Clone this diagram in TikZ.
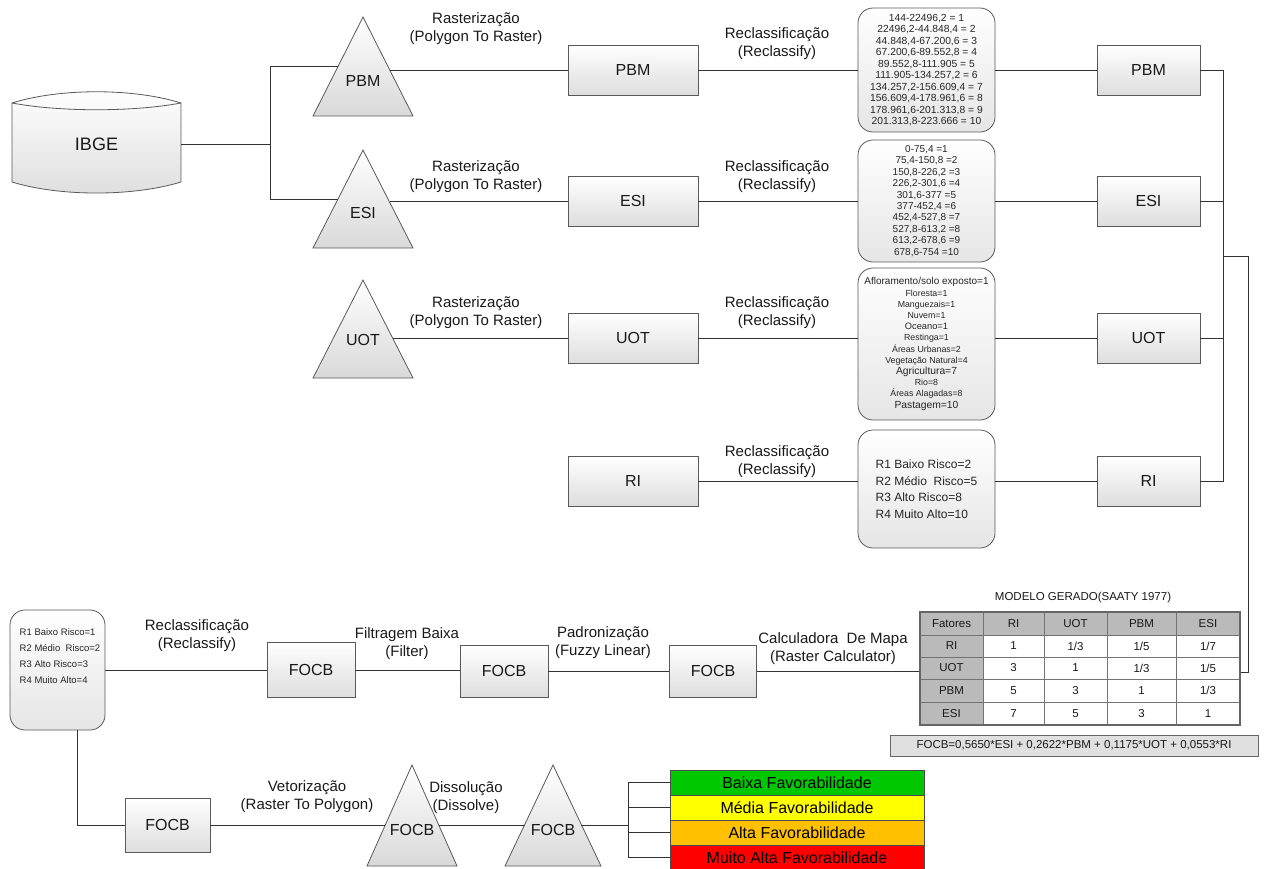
\documentclass[tikz,border=0pt]{standalone}
\usepackage{fontspec}
\setmainfont{Liberation Sans}
\newcommand\fsz[2]{\fontsize{#1}{#2}\selectfont}
\newcommand\mytri[4]{\draw[trishape] (#1,#2) -- (#1+#4,#3) -- (#1-#4,#3) -- cycle;}
\begin{document}
\begin{tikzpicture}[x=1pt,y=-1pt,
  conn/.style={draw=black!80,line width=0.8pt},
  boxst/.style={draw=black!65,line width=0.8pt,top color=white,bottom color=black!13,minimum width=130,minimum height=50,inner sep=0,font=\fsz{16}{18},text=black!90},
  rbox/.style={draw=black!65,line width=0.8pt,top color=white,bottom color=black!10,rounded corners=15,minimum width=137,inner sep=0,align=center,text=black!85},
  trishape/.style={draw=black!65,line width=0.8pt,top color=white,bottom color=black!15},
  trilbl/.style={inner sep=0,font=\fsz{16}{18},text=black!90},
  lbl/.style={align=center,inner sep=0,font=\fsz{15}{18},text=black!90},
  cell/.style={inner sep=0,font=\fsz{11.5}{13},text=black!90},
  legbox/.style={draw=black!70,line width=0.8pt,minimum width=254,minimum height=25,inner sep=0,font=\fsz{16}{17},text=black}]
\useasboundingbox (0,0) rectangle (1266,868);

% ---------- IBGE ----------
\shade[top color=white,bottom color=black!13,draw=black!65,line width=0.8pt]
  (12,103) .. controls (60,88) and (133,88) .. (181,103) -- (181,182)
  .. controls (133,196.7) and (60,196.7) .. (12,182) -- cycle;
\draw[black!65,line width=0.8pt] (12,103) .. controls (60,112) and (133,112) .. (181,103);
\node[inner sep=0,minimum width=169,minimum height=80,font=\fsz{18}{20},text=black!90] (ibge) at (96.5,144) {IBGE};

% ---------- triangles ----------
\mytri{363}{17}{116}{50}
\node[trilbl] (tpbm) at (363,81) {PBM};
\coordinate (pbmL) at (338,66);
\coordinate (pbmR) at (390,70);
\mytri{363}{150}{248}{50}
\node[trilbl] (tesi) at (363,213) {ESI};
\coordinate (esiL) at (338,199);
\coordinate (esiR) at (390,201);
\mytri{363}{280}{378}{50}
\node[trilbl] (tuot) at (363,340) {UOT};
\coordinate (uotR) at (393,338);

\coordinate (jA) at (270,66);
\coordinate (jB) at (270,199);
\draw[conn] (ibge.east) -- (ibge.east -| jA);
\draw[conn] (pbmL) -- (jA) -- (jB) -- (esiL);

% ---------- row boxes ----------
\node[boxst] (bpbm) at (633,70) {PBM};
\node[boxst] (besi) at (633,201) {ESI};
\node[boxst] (buot) at (633,338) {UOT};
\node[boxst] (bri) at (633,481) {RI};

\node[boxst,minimum width=103] (rpbm) at (1148.5,70) {PBM};
\node[boxst,minimum width=103] (resi) at (1148.5,201) {ESI};
\node[boxst,minimum width=103] (ruot) at (1148.5,338) {UOT};
\node[boxst,minimum width=103] (rri) at (1148.5,481) {RI};

\node[rbox,minimum height=124,font=\fsz{10.3}{11.5}] (c1) at (926.5,70) {144-22496,2 = 1\\22496,2-44.848,4 = 2\\44.848,4-67.200,6 = 3\\67.200,6-89.552,8 = 4\\89.552,8-111.905 = 5\\111.905-134.257,2 = 6\\134.257,2-156.609,4 = 7\\156.609,4-178.961,6 = 8\\178.961,6-201.313,8 = 9\\201.313,8-223.666 = 10};
\node[rbox,minimum height=122,font=\fsz{10}{11.4}] (c2) at (926.5,201) {0-75,4 =1\\75,4-150,8 =2\\150,8-226,2 =3\\226,2-301,6 =4\\301,6-377 =5\\377-452,4 =6\\452,4-527,8 =7\\527,8-613,2 =8\\613,2-678,6 =9\\678,6-754 =10};
\node[rbox,minimum height=152,font=\fsz{8.8}{11.2}] (c3) at (926.5,344) {{\fsz{10}{11.2}Afloramento/solo exposto=1}\\Floresta=1\\Manguezais=1\\Nuvem=1\\{\fsz{9.3}{11.2}Oceano=1}\\Restinga=1\\Áreas Urbanas=2\\Vegetação Natural=4\\{\fsz{10.3}{11.2}Agricultura=7}\\Rio=8\\Áreas Alagadas=8\\{\fsz{10.3}{11.2}Pastagem=10}};
\node[rbox,minimum height=118,align=left,font=\fsz{12}{16.5}] (c4) at (926.5,489) {R1 Baixo Risco=2\\R2 Médio\ \ Risco=5\\R3 Alto Risco=8\\R4 Muito Alto=10};

\draw[conn] (pbmR) -- (pbmR -| bpbm.west);
\draw[conn] (esiR) -- (esiR -| besi.west);
\draw[conn] (uotR) -- (uotR -| buot.west);
\draw[conn] (bpbm.east) -- (c1.west);
\draw[conn] (besi.east) -- (c2.west);
\draw[conn] (buot.east) -- (buot.east -| c3.west);
\draw[conn] (bri.east) -- (bri.east -| c4.west);
\draw[conn] (c1.east) -- (rpbm.west);
\draw[conn] (c2.east) -- (resi.west);
\draw[conn] (ruot.west -| c3.east) -- (ruot.west);
\draw[conn] (rri.west -| c4.east) -- (rri.west);

\node[lbl] (l1a) at (476,29) {Rasterização\\(Polygon To Raster)};
\node[lbl] (l2a) at (476,177) {Rasterização\\(Polygon To Raster)};
\node[lbl] (l3a) at (476,313) {Rasterização\\(Polygon To Raster)};
\node[lbl] (l1b) at (777,44) {Reclassificação\\(Reclassify)};
\node[lbl] (l2b) at (777,177) {Reclassificação\\(Reclassify)};
\node[lbl] (l3b) at (777,313) {Reclassificação\\(Reclassify)};
\node[lbl] (l4b) at (777,462) {Reclassificação\\(Reclassify)};

% right bus
\coordinate (busT) at (1223,70);
\coordinate (busM) at (1223,256);
\coordinate (busB) at (1223,481);
\coordinate (bend1) at (1248,256);
\coordinate (bend2) at (1248,672);
\coordinate (tabR) at (1241,672);
\draw[conn] (rpbm.east) -- (busT) -- (busB) -- (rri.east);
\draw[conn] (resi.east) -- (resi.east -| busT);
\draw[conn] (ruot.east) -- (ruot.east -| busT);
\draw[conn] (busM) -- (bend1) -- (bend2) -- (tabR);

% ---------- bottom flow ----------
\node[rbox,minimum width=95,minimum height=120] (rr) at (57.5,670) {};
\node[inner sep=0,align=left,font=\fsz{9.5}{16},text=black!85] (rrt) at (60,656) {R1 Baixo Risco=1\\R2 Médio\ \ Risco=2\\R3 Alto Risco=3\\R4 Muito Alto=4};
\node[boxst,minimum width=88,minimum height=55] (f1) at (311,670) {FOCB};
\node[boxst,minimum width=88,minimum height=52] (f2) at (504,671) {FOCB};
\node[boxst,minimum width=87,minimum height=52] (f3) at (713,671) {FOCB};
\draw[conn] (rr.east |- f1.west) -- (f1.west);
\draw[conn] (f1.east) -- (f1.east -| f2.west);
\draw[conn] (f2.east) -- (f2.east -| f3.west);

\node[lbl] (m1) at (197,636) {Reclassificação\\(Reclassify)};
\node[lbl] (m2) at (407,644) {Filtragem Baixa\\(Filter)};
\node[lbl] (m3) at (603,643) {Padronização\\(Fuzzy Linear)};
\node[lbl] (m4) at (833,649) {Calculadora\ \ De Mapa\\(Raster Calculator)};

% table
\node[inner sep=0,minimum width=320,minimum height=113] (tab) at (1080,668.5) {};
\draw[conn] (f3.east) -- (f3.east -| tab.west);
\node[inner sep=0,font=\fsz{11.5}{13},text=black!90] (ttl) at (1083,598) {MODELO GERADO(SAATY 1977)};
\fill[black!27] (920,612) rectangle (1240,635);
\fill[black!27] (920,635) rectangle (983,725);
\fill[white] (983,635) rectangle (1240,725);
\foreach \yy in {635,657,679,702}
  \draw[black!55,line width=1pt] (920,\yy) -- (1240,\yy);
\foreach \xx in {983,1044,1107,1176}
  \draw[black!55,line width=1pt] (\xx,612) -- (\xx,725);
\draw[black!60,line width=1.3pt] (920,612) rectangle (1240,725);
\foreach \txt [count=\i] in {Fatores,RI,UOT,PBM,ESI}{
  \pgfmathsetmacro\cx{{951.5,1013.5,1075.5,1141.5,1208}[\i-1]}
  \node[cell] (h\i) at (\cx,623.5) {\txt};}
\foreach \r/\ry/\a/\b/\c/\d/\e in {1/646/RI/1/1\slash3/1\slash5/1\slash7, 2/668/UOT/3/1/1\slash3/1\slash5, 3/690.5/PBM/5/3/1/1\slash3, 4/713.5/ESI/7/5/3/1}{
  \node[cell] (r\r a) at (951.5,\ry) {\a};
  \node[cell] (r\r b) at (1013.5,\ry) {\b};
  \node[cell] (r\r c) at (1075.5,\ry) {\c};
  \node[cell] (r\r d) at (1141.5,\ry) {\d};
  \node[cell] (r\r e) at (1208,\ry) {\e};}
\node[draw=black!60,line width=0.8pt,fill=black!12,minimum width=368,minimum height=21,inner sep=0,font=\fsz{11.5}{13},text=black!90] (form) at (1074,745.5) {FOCB=0,5650*ESI + 0,2622*PBM + 0,1175*UOT + 0,0553*RI};

% bottom row
\node[boxst,minimum width=85,minimum height=54] (f4) at (167.5,825) {FOCB};
\coordinate (dn) at (77,825);
\draw[conn] (rr.south -| dn) -- (dn) -- (f4.west);
\mytri{412}{765}{866}{45}
\node[trilbl] (tf1) at (412,830) {FOCB};
\coordinate (tf1L) at (385,825);
\coordinate (tf1R) at (439,825);
\mytri{553}{765}{866}{48}
\node[trilbl] (tf2) at (553,830) {FOCB};
\coordinate (tf2L) at (525,825);
\coordinate (tf2R) at (581,825);
\draw[conn] (f4.east) -- (tf1L);
\draw[conn] (tf1R) -- (tf2L);
\node[lbl] (v1) at (307,797) {Vetorização\\(Raster To Polygon)};
\node[lbl] (v2) at (466,798) {Dissolução\\(Dissolve)};

\node[legbox,fill={rgb,255:red,0;green,200;blue,0}] (g1) at (797,782.5) {Baixa Favorabilidade};
\node[legbox,fill={rgb,255:red,255;green,255;blue,0}] (g2) at (797,807.5) {Média Favorabilidade};
\node[legbox,fill={rgb,255:red,255;green,192;blue,0}] (g3) at (797,832.5) {Alta Favorabilidade};
\node[legbox,fill={rgb,255:red,255;green,0;blue,0}] (g4) at (797,857.5) {Muito Alta Favorabilidade};
\coordinate (lx) at (628,825);
\draw[conn] (tf2R) -- (lx);
\draw[conn] (g1.west) -- (g1.west -| lx) -- (g4.west -| lx) -- (g4.west);
\draw[conn] (g2.west) -- (g2.west -| lx);
\draw[conn] (g3.west) -- (g3.west -| lx);
\end{tikzpicture}
\end{document}
